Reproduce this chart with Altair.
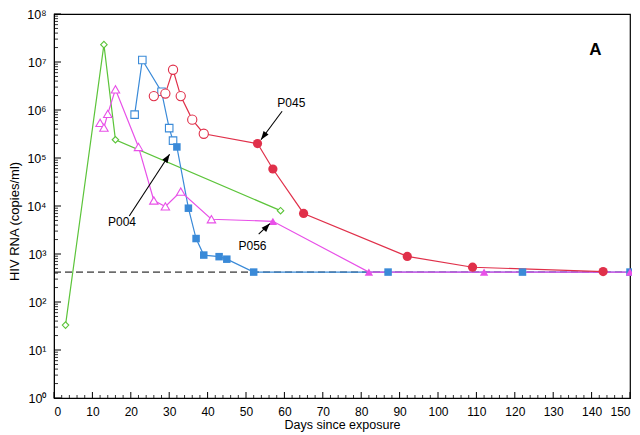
import altair as alt
import pandas as pd

# ---- data ----
green_days = [3, 13, 16, 59]
green_vals = [33, 2.3e7, 2.4e5, 8.0e3]
green_open = [True, True, True, True]

blue_days = [21, 23, 28, 30, 31, 32, 35, 37, 39, 43, 45, 52, 87, 122, 150]
blue_vals = [8.0e5, 1.1e7, 2.4e6, 4.2e5, 2.3e5, 1.7e5, 9.0e3, 2.1e3, 950, 880, 780, 420, 420, 420, 420]
blue_open = [True] * 5 + [False] * 10

pink_days = [12, 13, 14, 16, 22, 26, 29, 33, 41, 57, 82, 112, 150]
pink_vals = [5.4e5, 4.3e5, 8.3e5, 2.7e6, 1.7e5, 1.3e4, 9.8e3, 2.0e4, 5.3e3, 4.8e3, 420, 420, 420]
pink_open = [True] * 9 + [False] * 4

red_days = [26, 29, 31, 33, 36, 39, 53, 57, 65, 92, 109, 143]
red_vals = [1.95e6, 2.2e6, 6.9e6, 1.95e6, 6.3e5, 3.2e5, 2.0e5, 5.9e4, 7.0e3, 890, 530, 430]
red_open = [True] * 6 + [False] * 6

detection_limit = 420

series_names = ["green", "blue", "pink", "red"]
series_colors = ["#5cc43a", "#1e6ee8", "#e840e8", "#e0102f"]
line_colors = ["#5cc43a", "#3a8ad8", "#e850e8", "#e0304a"]
series_shapes = ["diamond", "square", "triangle-up", "circle"]
open_sizes = [42, 85, 55, 62]
filled_sizes = [42, 58, 42, 40]

label_text = ["P045", "P004", "P056"]
label_day = [61.8, 17.7, 51.7]
label_val = [1.4e6, 4.6e3, 1.44e3]
arrow_day0 = [59.4, 19.6, 53.3]
arrow_val0 = [9.4e5, 6.2e3, 2.6e3]
arrow_day1 = [53.9, 30.1, 56.2]
arrow_val1 = [2.4e5, 1.2e5, 4.3e3]
arrow_angle = [216, 33, 43]

panel_day = [141]
panel_val = [1.8e7]
panel_text = ["A"]

x_major = list(range(0, 151, 10))
x_minor = [v for v in range(0, 151, 2) if v % 10 != 0]
y_major = [10 ** d for d in range(0, 9)]
y_minor = [m * 10 ** d for d in range(0, 8) for m in range(2, 10)]

# ---- tables ----
rows = []
for name, days, vals, opn in [
    ("green", green_days, green_vals, green_open),
    ("blue", blue_days, blue_vals, blue_open),
    ("pink", pink_days, pink_vals, pink_open),
    ("red", red_days, red_vals, red_open),
]:
    for i, (d, v, o) in enumerate(zip(days, vals, opn)):
        rows.append({"series": name, "day": d, "val": v, "open": o, "idx": i})
df = pd.DataFrame(rows)

W, H = 576, 384
xs = alt.Scale(domain=[0, 150], nice=False, zero=False)
ys = alt.Scale(type="log", domain=[1, 1e8], nice=False)

sup = "['\u2070','\u00b9','\u00b2','\u00b3','\u2074','\u2075','\u2076','\u2077','\u2078']"
xaxis = alt.Axis(values=x_major, ticks=False, domain=True, domainColor="black",
                 labelFontSize=12, labelColor="black", labelPadding=8, grid=False,
                 title="Days since exposure", titleFontSize=12.5, titleFontWeight="normal",
                 titleColor="black", titlePadding=1, labelFont="Liberation Sans",
                 titleFont="Liberation Sans")
yaxis = alt.Axis(values=y_major, ticks=False, domain=True, domainColor="black",
                 labelExpr="'10' + " + sup + "[round(log(datum.value)/LN10)]",
                 labelFontSize=12.5, labelColor="black", labelPadding=8, grid=False,
                 title="HIV RNA (copies/ml)", titleFontSize=13, titleFontWeight="normal",
                 titleColor="black", titlePadding=5, titleY=207, labelFont="Liberation Sans",
                 titleFont="Liberation Sans")


def X(field="day"):
    return alt.X(f"{field}:Q", scale=xs, axis=xaxis)


def Y(field="val"):
    return alt.Y(f"{field}:Q", scale=ys, axis=yaxis)


color = alt.Color("series:N", scale=alt.Scale(domain=series_names, range=series_colors), legend=None)
lcolor = alt.Color("series:N", scale=alt.Scale(domain=series_names, range=line_colors), legend=None)
shape = alt.Shape("series:N", scale=alt.Scale(domain=series_names, range=series_shapes), legend=None)

base = alt.Chart(df)

limit_df = pd.DataFrame({"day": [0], "day2": [150], "val": [detection_limit]})
limit = alt.Chart(limit_df).mark_rule(color="black", strokeDash=[7, 4], strokeWidth=1).encode(
    x=X(), x2="day2:Q", y=Y())

lines = base.mark_line(strokeWidth=1.2).encode(
    x=X(), y=Y(), color=lcolor, detail="series:N", order="idx:Q")

open_pts = base.transform_filter("datum.open").mark_point(
    filled=False, fill="white", strokeWidth=1.1, opacity=1).encode(
    x=X(), y=Y(), color=color, shape=shape,
    size=alt.Size("series:N", scale=alt.Scale(domain=series_names, range=open_sizes), legend=None))

filled_pts = base.transform_filter("!datum.open").mark_point(
    filled=True, opacity=1).encode(
    x=X(), y=Y(), color=color, shape=shape,
    size=alt.Size("series:N", scale=alt.Scale(domain=series_names, range=filled_sizes), legend=None))

arrow_df = pd.DataFrame({"day": arrow_day0, "val": arrow_val0, "day2": arrow_day1,
                         "val2": arrow_val1, "angle": arrow_angle})
arrow_lines = alt.Chart(arrow_df).mark_rule(color="black", strokeWidth=1.1).encode(
    x=X(), y=Y(), x2="day2:Q", y2="val2:Q")
arrow_heads = alt.Chart(arrow_df).mark_point(
    shape="M0,0 L0.36,1 L-0.36,1 Z", filled=True, color="black", size=300, opacity=1).encode(
    x=alt.X("day2:Q", scale=xs, axis=xaxis), y=alt.Y("val2:Q", scale=ys, axis=yaxis),
    angle=alt.Angle("angle:Q", scale=None))

label_df = pd.DataFrame({"day": label_day, "val": label_val, "text": label_text})
labels = alt.Chart(label_df).mark_text(fontSize=12, font="Liberation Sans", color="black",
                                       align="center", baseline="middle").encode(
    x=X(), y=Y(), text="text:N")

panel_df = pd.DataFrame({"day": panel_day, "val": panel_val, "text": panel_text})
panel = alt.Chart(panel_df).mark_text(fontSize=17, fontWeight="bold", font="Liberation Sans",
                                      color="black", align="center", baseline="middle").encode(
    x=X(), y=Y(), text="text:N")

ymaj_df = pd.DataFrame({"val": y_major})
ymin_df = pd.DataFrame({"val": y_minor})
xmaj_df = pd.DataFrame({"day": x_major})
xmin_df = pd.DataFrame({"day": x_minor})
ytick_major = alt.Chart(ymaj_df).mark_rule(color="black", strokeWidth=1).encode(
    y=Y(), x=alt.value(0), x2=alt.value(7))
ytick_minor = alt.Chart(ymin_df).mark_rule(color="black", strokeWidth=0.8).encode(
    y=Y(), x=alt.value(0), x2=alt.value(4))
xtick_major = alt.Chart(xmaj_df).mark_rule(color="black", strokeWidth=1).encode(
    x=X(), y=alt.value(H), y2=alt.value(H - 6))
xtick_minor = alt.Chart(xmin_df).mark_rule(color="black", strokeWidth=0.8).encode(
    x=X(), y=alt.value(H), y2=alt.value(H - 3))

chart = alt.layer(
    limit, lines, open_pts, filled_pts, arrow_lines, arrow_heads, labels, panel,
    ytick_major, ytick_minor, xtick_major, xtick_minor
).properties(
    width=W, height=H,
    autosize="none",
    padding={"left": 46, "top": 6, "right": 2, "bottom": 37},
    background="white",
).configure_view(stroke="black", strokeWidth=1.2)

chart.save("out.html", embed_options={"renderer": "svg", "actions": False})
